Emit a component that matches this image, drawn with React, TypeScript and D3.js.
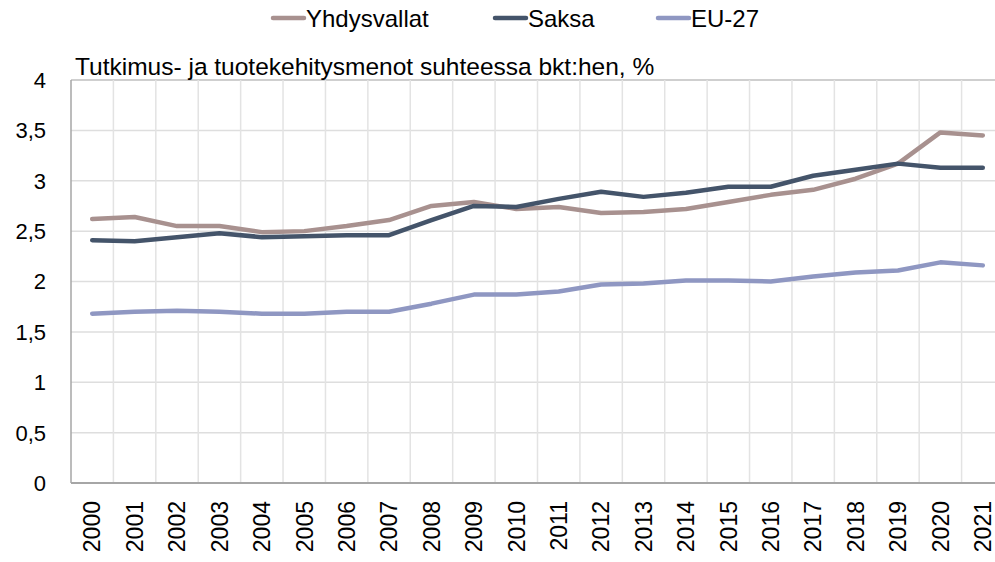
import React, { useEffect, useRef } from "react";
import * as d3 from "d3";

const years = [
  "2000", "2001", "2002", "2003", "2004", "2005", "2006", "2007", "2008", "2009", "2010",
  "2011", "2012", "2013", "2014", "2015", "2016", "2017", "2018", "2019", "2020", "2021",
];

const yhdysvallat = [
  2.62, 2.64, 2.55, 2.55, 2.49, 2.5, 2.55, 2.61, 2.75, 2.79, 2.72,
  2.74, 2.68, 2.69, 2.72, 2.79, 2.86, 2.91, 3.02, 3.17, 3.48, 3.45,
];
const saksa = [
  2.41, 2.4, 2.44, 2.48, 2.44, 2.45, 2.46, 2.46, 2.61, 2.75, 2.74,
  2.82, 2.89, 2.84, 2.88, 2.94, 2.94, 3.05, 3.11, 3.17, 3.13, 3.13,
];
const eu27 = [
  1.68, 1.7, 1.71, 1.7, 1.68, 1.68, 1.7, 1.7, 1.78, 1.87, 1.87,
  1.9, 1.97, 1.98, 2.01, 2.01, 2.0, 2.05, 2.09, 2.11, 2.19, 2.16,
];

const seriesNames = ["Yhdysvallat", "Saksa", "EU-27"];
const seriesColors = ["#a8918f", "#44546a", "#8f97c2"];
const yTicks = [0, 0.5, 1, 1.5, 2, 2.5, 3, 3.5, 4];

const title = "Tutkimus- ja tuotekehitysmenot suhteessa bkt:hen, %";

export default function App() {
  const ref = useRef<SVGSVGElement | null>(null);

  useEffect(() => {
    if (!ref.current) return;
    const svg = d3.select(ref.current);
    svg.selectAll("*").remove();

    const width = 995;
    const height = 562;
    const margin = { top: 80, right: -9, bottom: 79, left: 71 };
    const font = "'Liberation Sans', Arial, sans-serif";

    const x = d3
      .scaleBand()
      .domain(years)
      .range([margin.left, width - margin.right]);
    const y = d3
      .scaleLinear()
      .domain([0, 4])
      .range([height - margin.bottom, margin.top]);

    const g = svg.append("g");

    // horizontal grid
    g.selectAll(".hgrid")
      .data(yTicks)
      .enter()
      .append("line")
      .attr("x1", margin.left)
      .attr("x2", width - margin.right)
      .attr("y1", (d) => y(d))
      .attr("y2", (d) => y(d))
      .attr("stroke", (d) => (d === 4 ? "#bfbfbf" : "#dedede"))
      .attr("stroke-width", 1.5);

    // vertical grid at band edges
    g.selectAll(".vgrid")
      .data(years.slice(1))
      .enter()
      .append("line")
      .attr("x1", (d) => x(d)!)
      .attr("x2", (d) => x(d)!)
      .attr("y1", y(4))
      .attr("y2", y(0))
      .attr("stroke", "#e3e3e3")
      .attr("stroke-width", 1.5);

    // axis lines
    g.append("line")
      .attr("x1", margin.left)
      .attr("x2", margin.left)
      .attr("y1", y(4))
      .attr("y2", y(0))
      .attr("stroke", "#a6a6a6")
      .attr("stroke-width", 1.5);
    g.append("line")
      .attr("x1", margin.left)
      .attr("x2", width - margin.right)
      .attr("y1", y(0))
      .attr("y2", y(0))
      .attr("stroke", "#a6a6a6")
      .attr("stroke-width", 2);

    // y labels
    g.selectAll(".ylab")
      .data(yTicks)
      .enter()
      .append("text")
      .attr("x", 46)
      .attr("y", (d) => y(d))
      .attr("dy", "0.36em")
      .attr("text-anchor", "end")
      .style("font-family", font)
      .style("font-size", "22px")
      .attr("fill", "#000")
      .text((d) => String(d).replace(".", ","));

    // x labels
    g.selectAll(".xlab")
      .data(years)
      .enter()
      .append("text")
      .attr(
        "transform",
        (d) => `translate(${x(d)! + x.bandwidth() / 2},501) rotate(-90)`
      )
      .attr("dy", "0.36em")
      .attr("text-anchor", "end")
      .style("font-family", font)
      .style("font-size", "23px")
      .attr("fill", "#000")
      .text((d) => d);

    // lines
    const allSeries = [yhdysvallat, saksa, eu27];
    const line = d3
      .line<number>()
      .x((_, i) => x(years[i])! + x.bandwidth() / 2)
      .y((d) => y(d));

    allSeries.forEach((values, i) => {
      g.append("path")
        .datum(values)
        .attr("d", line)
        .attr("fill", "none")
        .attr("stroke", seriesColors[i])
        .attr("stroke-width", 4.5)
        .attr("stroke-linejoin", "round")
        .attr("stroke-linecap", "round");
    });

    // title
    svg.append("text")
      .attr("x", 75)
      .attr("y", 75)
      .style("font-family", font)
      .style("font-size", "24.5px")
      .attr("fill", "#000")
      .text(title);

    // legend
    const legendX = [271, 493, 656];
    const legend = svg
      .selectAll(".legend")
      .data(seriesNames)
      .enter()
      .append("g")
      .attr("transform", (_, i) => `translate(${legendX[i]},18)`);
    legend
      .append("line")
      .attr("x1", 2)
      .attr("x2", 33)
      .attr("stroke", (_, i) => seriesColors[i])
      .attr("stroke-width", 4.5)
      .attr("stroke-linecap", "round");
    legend
      .append("text")
      .attr("x", 35)
      .attr("dy", "0.36em")
      .style("font-family", font)
      .style("font-size", "24px")
      .attr("fill", "#000")
      .text((d) => d);
  }, []);

  return (
    <div style={{ position: "absolute", left: 0, top: 0 }}>
      <svg ref={ref} width={995} height={562} style={{ display: "block", background: "#fff" }} />
    </div>
  );
}
